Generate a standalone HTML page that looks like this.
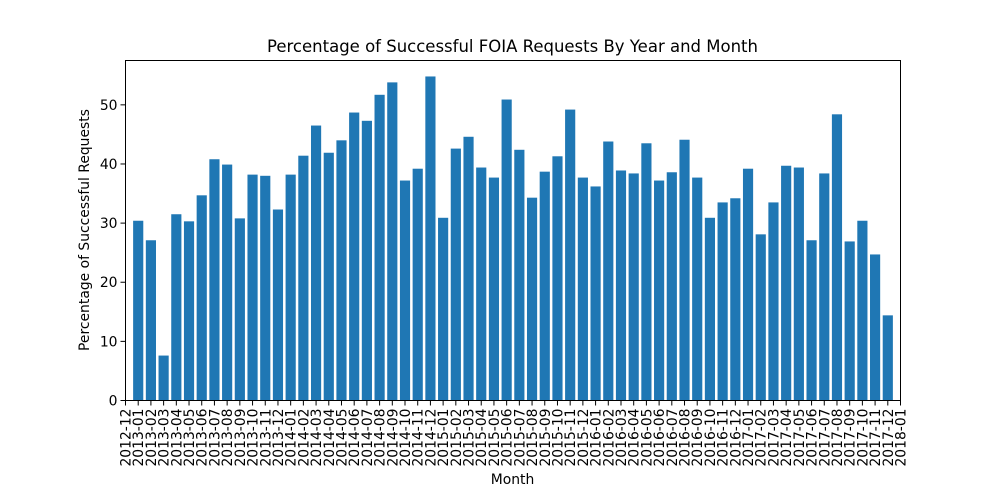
<!DOCTYPE html>
<html><head><meta charset="utf-8"><style>
html,body{margin:0;padding:0;background:#fff;}
svg{display:block;font-family:"DejaVu Sans","Liberation Sans",sans-serif;}
</style></head><body>
<svg id="chart" width="1000" height="500" viewBox="0 0 1000 500" xmlns="http://www.w3.org/2000/svg">
<rect width="1000" height="500" fill="#fff"/>
<text x="512.5" y="52" font-size="16.5" text-anchor="middle" fill="#000">Percentage of Successful FOIA Requests By Year and Month</text>
<g id="bars"></g>
<g id="xticks"></g>
<g id="yticks"></g>
<rect x="125.5" y="60.5" width="775" height="340" fill="none" stroke="#000" stroke-width="1"/>
<text x="512.5" y="484" font-size="13.9" text-anchor="middle">Month</text>
<text transform="translate(89,230) rotate(-90)" font-size="13.9" text-anchor="middle">Percentage of Successful Requests</text>
</svg>
<script>
const barMonths = [];
for (let yy = 2013; yy <= 2017; yy++) for (let mm = 1; mm <= 12; mm++) barMonths.push(yy + '-' + String(mm).padStart(2, '0'));
const values = [30.4,27.1,7.6,31.5,30.3,34.7,40.8,39.9,30.8,38.2,38.0,32.3,
 38.2,41.4,46.5,41.9,44.0,48.7,47.3,51.7,53.8,37.2,39.2,54.8,
 30.9,42.6,44.6,39.4,37.7,50.9,42.4,34.3,38.7,41.3,49.2,37.7,
 36.2,43.8,38.9,38.4,43.5,37.2,38.6,44.1,37.7,30.9,33.5,34.2,
 39.2,28.1,33.5,39.7,39.4,27.1,38.4,48.4,26.9,30.4,24.7,14.4];
const xTickLabels = ['2012-12'].concat(barMonths, ['2018-01']);
const yTickValues = [0,10,20,30,40,50];

const SVGNS = 'http://www.w3.org/2000/svg';
const plotLeft = 125.5, plotRight = 900.5, plotTop = 60.5, plotBottom = 400.5;
const yMax = 57.5;
function monthIndex(s){const p=s.split('-').map(Number);return p[0]*12+p[1]-1;}
const mStart = monthIndex(xTickLabels[0]), mEnd = monthIndex(xTickLabels[xTickLabels.length-1]);
function xScale(s){return plotLeft + (monthIndex(s)-mStart)/(mEnd-mStart)*(plotRight-plotLeft);}
function yScale(v){return plotBottom - v/yMax*(plotBottom-plotTop);}
const monthStep = (plotRight-plotLeft)/(mEnd-mStart), barW = monthStep*0.8;

const gb = document.getElementById('bars');
barMonths.forEach((mo,i)=>{
  const r = document.createElementNS(SVGNS,'rect');
  const x = xScale(mo), y = yScale(values[i]);
  r.setAttribute('x', x-barW/2); r.setAttribute('y', y);
  r.setAttribute('width', barW); r.setAttribute('height', plotBottom-0.5-y);
  r.setAttribute('fill', '#1f77b4');
  
  
  gb.appendChild(r);
});
const gx = document.getElementById('xticks');
xTickLabels.forEach(lbl=>{
  const x = xScale(lbl);
  const l = document.createElementNS(SVGNS,'line');
  l.setAttribute('x1',x);l.setAttribute('x2',x);l.setAttribute('y1',plotBottom);l.setAttribute('y2',plotBottom+5);
  l.setAttribute('stroke','#000');
  
  
  gx.appendChild(l);
  const t = document.createElementNS(SVGNS,'text');
  t.setAttribute('transform','translate('+(x+5)+','+(plotBottom+8)+') rotate(-90)');
  t.setAttribute('font-size','13.9');t.setAttribute('text-anchor','end');
  t.textContent = lbl;
  
  
  gx.appendChild(t);
});
const gy = document.getElementById('yticks');
yTickValues.forEach(v=>{
  const y = yScale(v);
  const l = document.createElementNS(SVGNS,'line');
  l.setAttribute('x1',plotLeft-5);l.setAttribute('x2',plotLeft);l.setAttribute('y1',y);l.setAttribute('y2',y);
  l.setAttribute('stroke','#000');
  
  
  gy.appendChild(l);
  const t = document.createElementNS(SVGNS,'text');
  t.setAttribute('x',plotLeft-8);t.setAttribute('y',y+5);
  t.setAttribute('font-size','13.9');t.setAttribute('text-anchor','end');
  t.textContent = v;
  
  
  gy.appendChild(t);
});
</script>
</body></html>
